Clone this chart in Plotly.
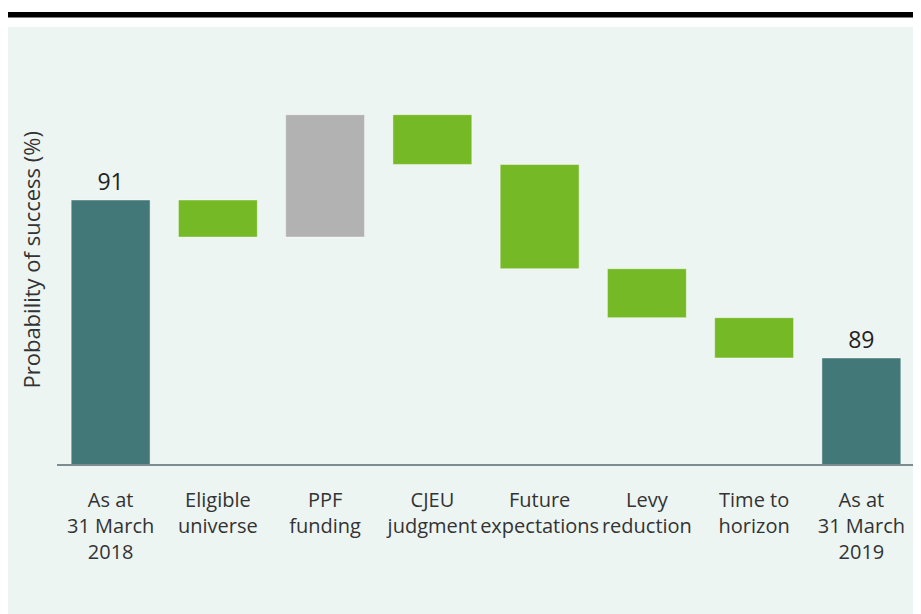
import plotly.graph_objects as go

# waterfall data (probability of success, %)
categories = ['As at<br>31 March<br>2018', 'Eligible<br>universe', 'PPF<br>funding', 'CJEU<br>judgment',
              'Future<br>expectations', 'Levy<br>reduction', 'Time to<br>horizon', 'As at<br>31 March<br>2019']
measures = ['absolute', 'relative', 'relative', 'relative', 'relative', 'relative', 'relative', 'total']
values = [91, -0.47, 1.55, -0.63, -1.32, -0.62, -0.51, 0]
labels = ['91', '', '', '', '', '', '', '89']

W, H = 921, 614
OFF = 8  # the page body margin shifts the figure by this much
# plot area in page pixels
L, R, T, B = 56.5, 915.4, 80, 464


def px_x(px):
    return (px - L) / (R - L)


def px_y(py):
    return (B - py) / (B - T)


teal = '#437878'
green = '#76b926'
grey = '#b2b2b2'
edge = dict(color='rgba(255,255,255,0.45)', width=1)

fig = go.Figure(go.Waterfall(
    x=categories, y=values, measure=measures,
    text=labels, textposition='outside',
    textfont=dict(size=23, color='#222222'),
    increasing=dict(marker=dict(color=grey, line=edge)),
    decreasing=dict(marker=dict(color=green, line=edge)),
    totals=dict(marker=dict(color=teal, line=edge)),
    connector=dict(visible=False),
    cliponaxis=False,
    hoverinfo='skip',
))

fig.update_layout(
    width=W, height=H,
    margin=dict(l=L - OFF, r=W - R + OFF, t=T - OFF, b=H - B + OFF, pad=0, autoexpand=False),
    paper_bgcolor='white',
    plot_bgcolor='rgba(0,0,0,0)',
    showlegend=False,
    waterfallgap=0.264,
    font=dict(family='Open Sans', color='#333333'),
    shapes=[
        dict(type='rect', xref='paper', yref='paper', layer='below',
             x0=px_x(0), x1=px_x(W + 20), y0=px_y(27), y1=px_y(H + 20),
             fillcolor='#edf5f3', line=dict(width=0)),
        dict(type='rect', xref='paper', yref='paper', layer='above',
             x0=px_x(0), x1=px_x(W + 20), y0=px_y(12), y1=px_y(17.5),
             fillcolor='black', line=dict(width=0)),
    ],
    annotations=[
        dict(text='Probability of success (%)', textangle=-90, showarrow=False,
             xref='paper', yref='paper', x=px_x(30), y=px_y(260),
             xanchor='center', yanchor='middle',
             font=dict(size=22, color='#333333')),
    ],
)

fig.update_xaxes(
    showline=True, linecolor='#7f8c8f', linewidth=2,
    showgrid=False, ticks='', tickfont=dict(size=20, color='#333333'),
    tickangle=0, automargin=False, ticklabelstandoff=17,
)
fig.update_yaxes(
    range=[87.658, 87.658 + (B - T) / 79.0],
    showgrid=False, showticklabels=False, zeroline=False, showline=False,
    automargin=False,
)

fig.write_html("out.html")
